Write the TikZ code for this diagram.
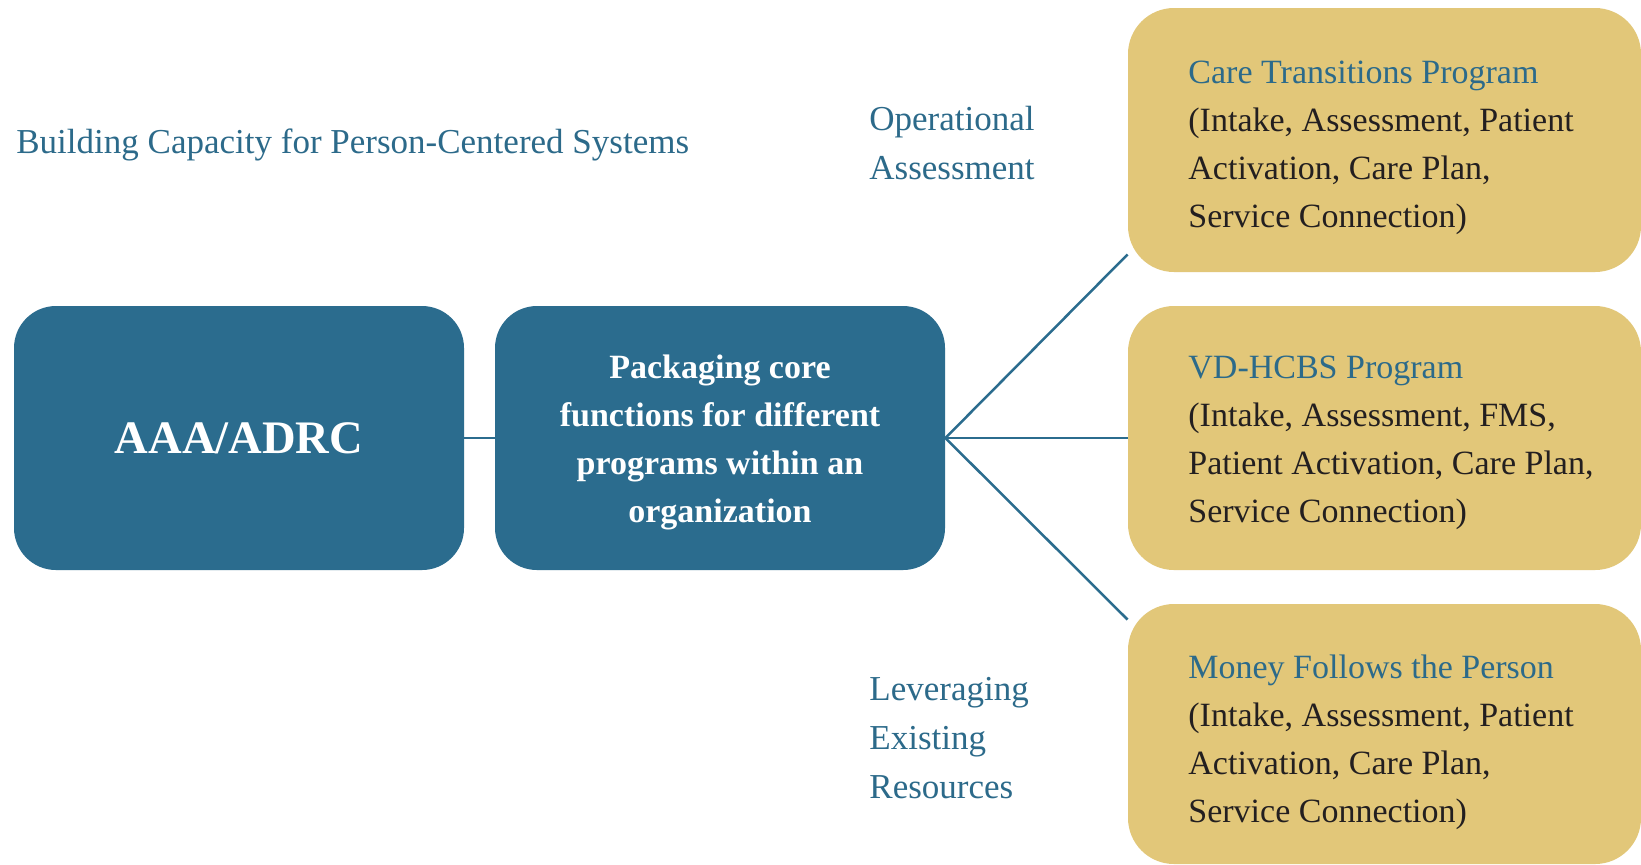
\documentclass[tikz,border=0pt]{standalone}
\usepackage{fontspec}
\setmainfont{Liberation Serif}
\usetikzlibrary{backgrounds,calc}
\definecolor{boxblue}{HTML}{2B6C8E}
\definecolor{gold}{HTML}{E2C779}
\definecolor{headblue}{HTML}{2C6A8A}
\definecolor{bodytext}{HTML}{231F20}
\begin{document}
\begin{tikzpicture}[x=0.5pt,y=-0.5pt,
  bluebox/.style={fill=boxblue, rounded corners=21pt, minimum width=225pt, minimum height=132pt, inner sep=0pt, text=white, align=center},
  boxlabel/.style={inner sep=0pt, text=white, font=\bfseries\fontsize{17}{24}\selectfont, align=center},
  goldbox/.style={fill=gold, rounded corners=23pt, minimum width=256.5pt, inner sep=0pt},
  goldtext/.style={anchor=west, inner sep=0pt, align=left, text=bodytext, font=\fontsize{17}{24}\selectfont},
  sidelabel/.style={anchor=west, inner sep=0pt, align=left, text=headblue, font=\fontsize{17.5}{24.5}\selectfont},
  link/.style={draw=boxblue, line width=1.25pt}]
\useasboundingbox (0,0) rectangle (1641,864);

\node[anchor=west, inner sep=0pt, text=headblue, font=\fontsize{17.5}{24}\selectfont] (title) at (16,145) {Building Capacity for Person-Centered Systems};

\node[bluebox, font=\bfseries\fontsize{23.3}{28}\selectfont] (aaa) at (239,438) {AAA/ADRC};
\node[bluebox] (pk) at (720,438) {};
\node[boxlabel] (pktext) at (720,442) {Packaging core\\functions for different\\programs within an\\organization};

\node[goldbox, minimum height=132pt] (g1) at (1384.5,140) {};
\node[goldbox, minimum height=132pt] (g2) at (1384.5,438) {};
\node[goldbox, minimum height=130pt] (g3) at (1384.5,734) {};

\node[goldtext] (t1) at (1188,148) {\textcolor{headblue}{Care Transitions Program}\\(Intake, Assessment, Patient\\Activation, Care Plan,\\Service Connection)};
\node[goldtext] (t2) at (1188,443) {\textcolor{headblue}{VD-HCBS Program}\\(Intake, Assessment, FMS,\\Patient Activation, Care Plan,\\Service Connection)};
\node[goldtext] (t3) at (1188,742) {\textcolor{headblue}{Money Follows the Person}\\(Intake, Assessment, Patient\\Activation, Care Plan,\\Service Connection)};

\node[sidelabel] (op) at (869,143) {Operational\\Assessment};
\node[sidelabel] (lev) at (869,738) {Leveraging\\Existing\\Resources};

\coordinate (c1) at ($(g1.south west)+(0,-18)$);
\coordinate (c3) at ($(g3.north west)+(0,16)$);

\begin{scope}[on background layer]
\fill[white] (0,0) rectangle (1641,864);
\draw[link] (aaa.east) -- (pk.west);
\draw[link] (pk.east) -- (c1);
\draw[link] (pk.east) -- (g2.west);
\draw[link] (pk.east) -- (c3);
\end{scope}
\end{tikzpicture}
\end{document}
